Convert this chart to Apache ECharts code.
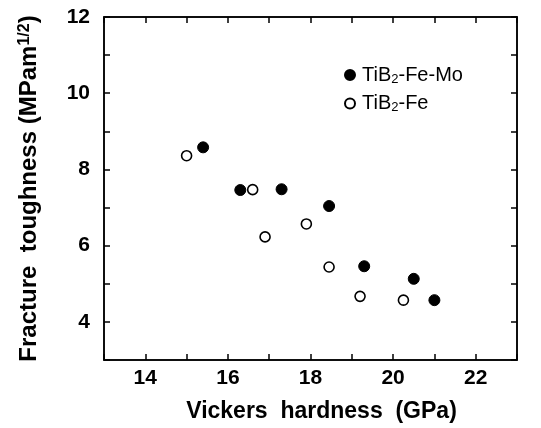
<!DOCTYPE html>
<html>
<head>
<meta charset="utf-8">
<script src="https://cdn.jsdelivr.net/npm/echarts@6/dist/echarts.min.js"></script>
<style>
  html, body { margin: 0; padding: 0; background: #fff; }
  #main { width: 541px; height: 428px; }
</style>
</head>
<body>
<div id="main"></div>
<script>
// values: [hardness GPa, toughness MPa m^1/2]
var feMoPoints = [[15.4, 8.58], [16.3, 7.46], [17.3, 7.48], [18.45, 7.04], [19.3, 5.46], [20.5, 5.13], [21.0, 4.57]];
var fePoints = [[15.0, 8.36], [16.6, 7.47], [16.9, 6.23], [17.9, 6.57], [18.45, 5.44], [19.2, 4.67], [20.25, 4.57]];
var seriesNames = ['TiB2-Fe-Mo', 'TiB2-Fe'];
var xTickLabels = [14, 16, 18, 20, 22];
var yTickLabels = [4, 6, 8, 10, 12];

var myChart = echarts.init(document.getElementById('main'));

var font = 'Liberation Sans, Arial, sans-serif';

function evenOnly(list) {
    return function (v) { return list.indexOf(v) >= 0 ? String(v) : ''; };
}

var option = {
    backgroundColor: '#fff',
    animation: false,
    textStyle: { fontFamily: font },
    grid: { left: 104, top: 17, right: 24, bottom: 66, show: true, borderColor: '#000', borderWidth: 1.5 },
    legend: {
        left: 339,
        top: 60,
        orient: 'vertical',
        itemWidth: 10,
        itemHeight: 10,
        itemGap: 8,
        data: [
            { name: seriesNames[0], icon: 'circle' },
            { name: seriesNames[1], icon: 'circle' }
        ],
        formatter: function (name) {
            return name.replace('2', '{sub|2}');
        },
        textStyle: {
            fontSize: 20, color: '#000', fontFamily: font, padding: [0, 0, 0, 2],
            rich: { sub: { fontSize: 13, verticalAlign: 'bottom', padding: [8, 0, 0, 0], fontFamily: font } }
        }
    },
    xAxis: [{
        type: 'value', min: 13, max: 23, interval: 1,
        name: 'Vickers  hardness  (GPa)', nameLocation: 'middle', nameGap: 40,
        nameTextStyle: { fontSize: 23, fontWeight: 'bold', color: '#000', fontFamily: font, padding: [0, 0, 0, 22] },
        axisLine: { lineStyle: { color: '#000', width: 1.5 } },
        axisTick: { inside: true, length: 6, lineStyle: { color: '#000', width: 1.5 } },
        axisLabel: { formatter: evenOnly(xTickLabels), fontSize: 21, fontWeight: 'bold', color: '#000', margin: 8 },
        splitLine: { show: false }
    }, {
        type: 'value', min: 13, max: 23, interval: 1, position: 'top',
        axisLine: { lineStyle: { color: '#000', width: 1.5 } },
        axisTick: { inside: true, length: 6, lineStyle: { color: '#000', width: 1.5 } },
        axisLabel: { show: false },
        splitLine: { show: false }
    }],
    yAxis: [{
        type: 'value', min: 3, max: 12, interval: 1,
        name: 'Fracture  toughness (MPam{sup|1/2})', nameLocation: 'middle', nameGap: 62,
        nameTextStyle: {
            fontSize: 24, fontWeight: 'bold', color: '#000', fontFamily: font, padding: [0, 0, 0, 0],
            rich: { sup: { fontSize: 16, fontWeight: 'bold', verticalAlign: 'top', padding: [0, 0, 9, 0], fontFamily: font } }
        },
        axisLine: { lineStyle: { color: '#000', width: 1.5 } },
        axisTick: { inside: true, length: 6, lineStyle: { color: '#000', width: 1.5 } },
        axisLabel: { formatter: evenOnly(yTickLabels), fontSize: 21, fontWeight: 'bold', color: '#000', margin: 14 },
        splitLine: { show: false }
    }, {
        type: 'value', min: 3, max: 12, interval: 1, position: 'right',
        axisLine: { lineStyle: { color: '#000', width: 1.5 } },
        axisTick: { inside: true, length: 6, lineStyle: { color: '#000', width: 1.5 } },
        axisLabel: { show: false },
        splitLine: { show: false }
    }],
    series: [{
        name: seriesNames[0],
        type: 'scatter',
        symbol: 'circle',
        symbolSize: 11,
        itemStyle: { color: '#000', borderColor: '#000', borderWidth: 1, opacity: 1 },
        data: feMoPoints
    }, {
        name: seriesNames[1],
        type: 'scatter',
        symbol: 'circle',
        symbolSize: 10,
        itemStyle: { color: '#fff', borderColor: '#000', borderWidth: 1.6, opacity: 1 },
        data: fePoints
    }]
};

myChart.setOption(option);
</script>
</body>
</html>
